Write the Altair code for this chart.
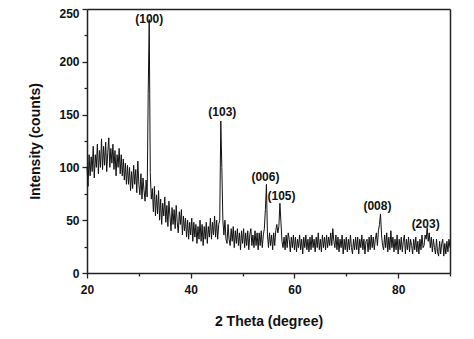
import altair as alt
import numpy as np
import pandas as pd

# 2-theta scan from 20 to 90 degrees, 0.2 degree steps
two_theta = np.round(np.arange(20.0, 90.0001, 0.2), 1)
intensity = [
    100, 82, 112, 92, 110,
    96, 120, 90, 112, 100,
    122, 94, 116, 100, 127,
    98, 120, 102, 124, 96,
    114, 128, 100, 118, 104,
    122, 98, 116, 92, 112,
    100, 118, 94, 112, 92,
    108, 88, 104, 84, 102,
    84, 100, 78, 96, 80,
    102, 84, 98, 76, 106,
    84, 74, 94, 70, 90,
    78, 68, 88, 72, 170,
    240, 95, 70, 80, 58,
    82, 54, 74, 56, 78,
    50, 70, 46, 66, 54,
    72, 48, 64, 44, 68,
    54, 40, 62, 46, 60,
    42, 64, 48, 38, 58,
    46, 60, 36, 54, 40,
    52, 34, 50, 32, 48,
    36, 52, 30, 48, 34,
    46, 28, 44, 32, 50,
    30, 46, 26, 44, 32,
    48, 28, 44, 34, 52,
    32, 48, 36, 54, 34,
    50, 32, 46, 50, 144,
    100, 50, 36, 50, 32,
    28, 46, 32, 26, 42,
    30, 44, 24, 40, 28,
    42, 26, 38, 22, 40,
    28, 42, 24, 38, 26,
    40, 22, 36, 42, 26,
    36, 24, 40, 26, 38,
    22, 38, 26, 40, 24,
    36, 42, 60, 84, 36,
    24, 38, 26, 36, 22,
    38, 26, 40, 46, 38,
    44, 66, 48, 30, 24,
    34, 22, 36, 24, 38,
    32, 20, 34, 24, 36,
    22, 34, 20, 32, 24,
    36, 22, 32, 18, 34,
    24, 36, 22, 32, 20,
    34, 22, 36, 24, 32,
    20, 34, 24, 38, 22,
    32, 20, 36, 24, 34,
    22, 36, 24, 34, 26,
    38, 26, 42, 30, 24,
    36, 22, 34, 20, 32,
    24, 36, 18, 32, 22,
    34, 20, 32, 22, 36,
    24, 18, 32, 22, 34,
    22, 34, 18, 32, 24,
    36, 22, 32, 18, 30,
    32, 20, 34, 22, 36,
    24, 34, 22, 32, 38,
    26, 40, 46, 56, 36,
    26, 22, 36, 24, 38,
    20, 34, 22, 40, 24,
    34, 20, 32, 22, 36,
    18, 32, 22, 34, 20,
    30, 36, 18, 32, 22,
    34, 20, 32, 26, 18,
    32, 22, 34, 20, 30,
    18, 32, 22, 36, 24,
    26, 36, 32, 43, 30,
    38, 24, 34, 20, 32,
    24, 18, 32, 20, 16,
    30, 18, 28, 32, 16,
    28, 18, 30, 20, 32,
    24,
]

peak_labels = ["(100)", "(103)", "(006)", "(105)", "(008)", "(203)"]
peak_x = [32.0, 46.1, 54.4, 57.5, 76.0, 85.3]
peak_y = [241, 152, 91, 73, 63, 46]

x_ticks = [20, 30, 40, 50, 60, 70, 80, 90]
y_ticks = [0, 25, 50, 75, 100, 125, 150, 175, 200, 225, 250]

df = pd.DataFrame({"x": two_theta, "y": intensity})
lab = pd.DataFrame({"x": peak_x, "y": peak_y, "t": peak_labels})

FONT = "Liberation Sans"
INK = "#222222"
xscale = alt.Scale(domain=[20, 90], nice=False, zero=False)
yscale = alt.Scale(domain=[0, 250], nice=False)

line = alt.Chart(df).mark_line(color="#111111", strokeWidth=1.0).encode(
    x=alt.X("x:Q", scale=xscale,
            axis=alt.Axis(values=x_ticks, title="2 Theta (degree)", format="d",
                          orient="bottom", labelPadding=6, titlePadding=19,
                          labelFlush=False,
                          labelExpr="datum.value % 20 === 0 && datum.value < 90 ? datum.label : ''",
                          tickSize={"condition": {"test": "datum.value % 20 === 0", "value": 5},
                                    "value": 3})),
    y=alt.Y("y:Q", scale=yscale,
            axis=alt.Axis(values=y_ticks, title="Intensity (counts)", format="d",
                          orient="left", labelPadding=3, titlePadding=16,
                          labelFlush=False,
                          labelExpr="datum.value % 50 === 0 ? datum.label : ''",
                          labelOffset={"condition": {"test": "datum.value === 250", "value": 4},
                                       "value": 0},
                          tickSize={"condition": {"test": "datum.value % 50 === 0", "value": 5},
                                    "value": 3})),
)

frame = alt.Chart(df).mark_point(opacity=0).encode(
    x=alt.X("x:Q", scale=xscale,
            axis=alt.Axis(orient="top", labels=False, ticks=False, title=None, domain=True)),
    y=alt.Y("y:Q", scale=yscale,
            axis=alt.Axis(orient="right", labels=False, ticks=False, title=None, domain=True)),
)

text = alt.Chart(lab).mark_text(font=FONT, fontSize=12, fontWeight="bold",
                                color="#111111", baseline="middle").encode(
    x=alt.X("x:Q", scale=xscale, axis=None),
    y=alt.Y("y:Q", scale=yscale, axis=None),
    text="t:N",
)

chart = alt.layer(line, frame, text).resolve_axis(
    x="independent", y="independent"
).properties(
    width=363, height=264,
    autosize=alt.AutoSizeParams(type="none"),
    padding={"left": 79, "top": 1, "right": 16, "bottom": 58},
).configure_view(
    stroke=None
).configure_axis(
    domainColor=INK, domainWidth=1.5, tickColor=INK, tickWidth=1.3,
    grid=False, labelFont=FONT, labelFontSize=12, labelFontWeight="bold",
    labelColor="#111111", titleFont=FONT, titleFontSize=14, titleFontWeight="bold",
    titleColor="#111111",
)

chart.save("out.html", embed_options={"renderer": "svg", "actions": False})
